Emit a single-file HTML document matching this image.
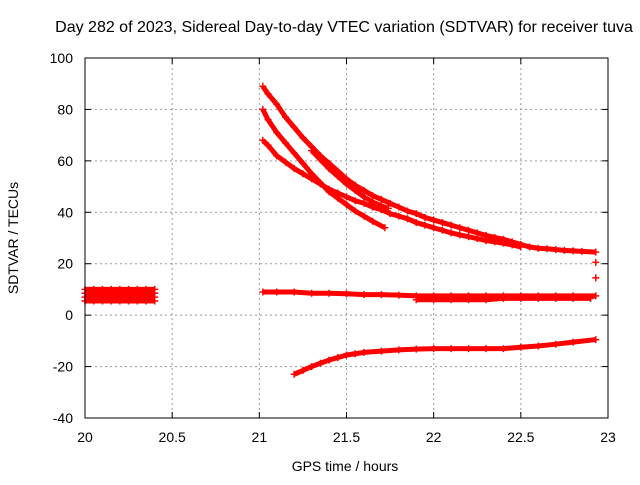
<!DOCTYPE html>
<html><head><meta charset="utf-8"><style>
body{margin:0;background:#fff}
svg{font-family:"Liberation Sans",sans-serif}
</style></head><body>
<svg id="c" width="640" height="480" xmlns="http://www.w3.org/2000/svg">
<rect width="640" height="480" fill="#fff"/>
<text x="344" y="32" font-size="16" text-anchor="middle">Day 282 of 2023, Sidereal Day-to-day VTEC variation (SDTVAR) for receiver tuva</text>
<text x="345" y="471" font-size="14" text-anchor="middle">GPS time / hours</text>
<text x="18" y="238" font-size="14" text-anchor="middle" transform="rotate(-90 18 238)">SDTVAR / TECUs</text>
<g id="grid"></g><g id="marks"></g>
<rect x="85" y="58" width="523" height="360" fill="none" stroke="#000" stroke-width="1"/>
</svg>
<script>
const xTicks=[20,20.5,21,21.5,22,22.5,23];
const yTicks=[-40,-20,0,20,40,60,80,100];
const blockX=[20,20.05,20.1,20.15,20.2,20.25,20.3,20.35,20.4];
const blockRows=[10,8.5,7,5.5];
const seriesA=[[21.02,89],[21.05,86],[21.1,82],[21.15,77],[21.2,73],[21.25,69],[21.3,65.5],[21.35,62],[21.4,59],[21.45,56],[21.5,53],[21.55,50.5],[21.6,48.5],[21.65,46.5],[21.7,45],[21.75,43.5],[21.8,42],[21.85,40.5],[21.9,39.5],[21.95,38],[22,37],[22.05,36],[22.1,35],[22.15,34],[22.2,33],[22.25,32],[22.3,31],[22.35,30.2],[22.4,29.5],[22.45,28.5],[22.5,27.5],[22.55,26.5],[22.6,26],[22.65,25.8],[22.7,25.5],[22.75,25.2],[22.8,25],[22.85,24.8],[22.93,24.5],[22.93,20.5],[22.93,14.5]];
const seriesB=[[21.02,80],[21.05,76],[21.1,71],[21.15,67],[21.2,63],[21.25,59],[21.3,55],[21.35,51.5],[21.4,48],[21.45,45.5],[21.5,43],[21.55,40.5],[21.6,38.5],[21.65,36.5],[21.72,34]];
const seriesC=[[21.02,68],[21.05,66],[21.1,62],[21.15,59.5],[21.2,57],[21.25,55],[21.3,53],[21.35,51],[21.4,49],[21.45,47.5],[21.5,46],[21.55,44.5],[21.6,43.5],[21.65,42],[21.7,41],[21.75,39.5],[21.8,38.5],[21.85,37.5],[21.9,36],[21.95,35],[22,34],[22.05,33],[22.1,32],[22.15,31.2],[22.2,30.5],[22.25,29.8],[22.3,29],[22.35,28.5],[22.4,28],[22.45,27.3],[22.5,26.5]];
const seriesD=[[21.3,64],[21.35,60.5],[21.4,57],[21.45,54],[21.5,51],[21.55,48.5],[21.6,46],[21.65,44],[21.7,42.5],[21.74,41.5]];
const seriesE=[[21.02,9],[21.1,9],[21.2,9],[21.3,8.5],[21.4,8.5],[21.5,8.3],[21.6,8],[21.7,8],[21.8,7.8],[21.9,7.5],[22,7.5],[22.1,7.5],[22.2,7.5],[22.3,7.5],[22.4,7.5],[22.5,7.5],[22.6,7.5],[22.7,7.5],[22.8,7.5],[22.93,7.5]];
const seriesE2=[[21.9,6],[22,6],[22.1,6],[22.2,6],[22.3,6],[22.4,6.5],[22.5,6.5],[22.6,6.5],[22.7,6.5],[22.8,6.5],[22.9,6.5]];
const seriesF=[[21.2,-23],[21.25,-21.5],[21.3,-20],[21.35,-18.7],[21.4,-17.5],[21.45,-16.5],[21.5,-15.5],[21.55,-15],[21.6,-14.5],[21.7,-14],[21.8,-13.5],[21.9,-13.2],[22,-13],[22.1,-13],[22.2,-13],[22.3,-13],[22.4,-13],[22.5,-12.5],[22.6,-12],[22.7,-11.3],[22.8,-10.5],[22.93,-9.5]];
const X=h=>85+(h-20)*523/3, Y=v=>58+(100-v)*360/140;
const NS="http://www.w3.org/2000/svg";
const g=document.getElementById('grid'), m=document.getElementById('marks');
function el(t,a,p){const e=document.createElementNS(NS,t);for(const k in a)e.setAttribute(k,a[k]);p.appendChild(e);return e;}
xTicks.forEach(t=>{const x=X(t);
 if(t>20&&t<23){const l=el('line',{x1:x,x2:x,y1:58,y2:418,stroke:'#999','stroke-dasharray':'2,3'},g);}
 el('line',{x1:x,x2:x,y1:418,y2:412,stroke:'#000'},g);el('line',{x1:x,x2:x,y1:58,y2:64,stroke:'#000'},g);
 const tx=el('text',{x:x,y:442,'font-size':14,'text-anchor':'middle'},g);tx.textContent=t;
 });
yTicks.forEach(t=>{const y=Y(t);
 if(t>-40&&t<100){const l=el('line',{x1:85,x2:608,y1:y,y2:y,stroke:'#999','stroke-dasharray':'2,3'},g);}
 el('line',{x1:85,x2:91,y1:y,y2:y,stroke:'#000'},g);el('line',{x1:602,x2:608,y1:y,y2:y,stroke:'#000'},g);
 const tx=el('text',{x:73,y:y+5,'font-size':14,'text-anchor':'end'},g);tx.textContent=t;
 });
function series(pts,name,line){
 const grp=el('g',{},m);
 if(line){el('polyline',{points:pts.slice(0,line).map(p=>X(p[0])+','+Y(p[1])).join(' '),fill:'none',stroke:'#f00','stroke-width':5,'stroke-linejoin':'round'},grp);}
 pts.forEach(p=>{const x=X(p[0]),y=Y(p[1]);
  const pth=el('path',{d:`M${x-3.5},${y}h7M${x},${y-3.5}v7`,stroke:'#f00','stroke-width':1.5},grp);
  });
}
blockRows.forEach(v=>series(blockX.map(h=>[h,v]),'series-early-block',blockX.length));
series(seriesA,'series-a',seriesA.length-2);
series(seriesB,'series-b',seriesB.length);
series(seriesC,'series-c',seriesC.length);
series(seriesD,'series-d',seriesD.length);
series(seriesE,'series-e',seriesE.length);
series(seriesE2,'series-e2',seriesE2.length);
series(seriesF,'series-f',seriesF.length);
</script>
</body></html>
